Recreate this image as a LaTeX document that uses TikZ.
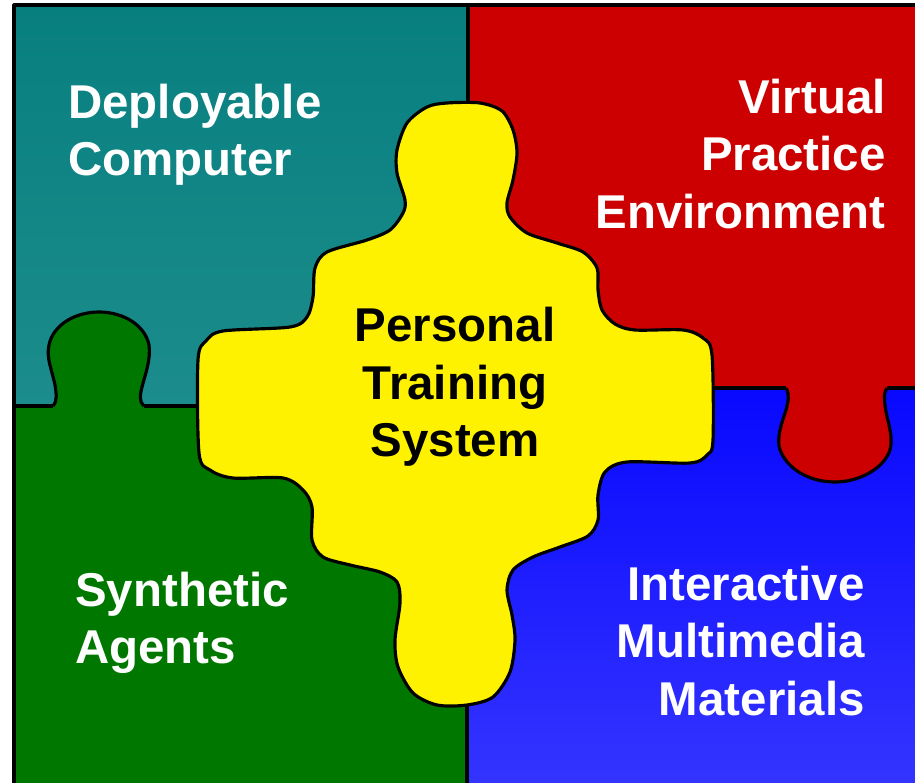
\documentclass[tikz,border=0pt]{standalone}
\usepackage{fontspec}
\setmainfont{Liberation Sans}
\usetikzlibrary{positioning}

\definecolor{tealpiece}{RGB}{8,127,127}
\definecolor{tealpiecelow}{RGB}{28,140,140}
\definecolor{redpiece}{RGB}{204,0,0}
\definecolor{greenpiece}{RGB}{0,120,0}
\definecolor{bluepiece}{RGB}{8,8,255}
\definecolor{bluepiecelow}{RGB}{52,52,255}

\begin{document}
\begin{tikzpicture}[
    x=0.02cm,
    y=-0.02cm,
    edge line/.style={draw=black,line width=1.8pt,line join=round},
    piece label/.style={text=white,font=\fontsize{27}{32.6}\selectfont\bfseries,inner sep=0pt},
    center label/.style={text=black,font=\fontsize{27}{32.6}\selectfont\bfseries,inner sep=0pt,align=center}
]
\useasboundingbox (0,0) rectangle (915,783);
\clip (0,0) rectangle (915,783);

% Quadrants
\fill[top color=tealpiece,bottom color=tealpiecelow] (14,5) rectangle (468,406);
\fill[redpiece] (468,5) rectangle (915,388);
\fill[greenpiece] (14,406) rectangle (467,783);
\fill[top color=bluepiece,bottom color=bluepiecelow] (467,388) rectangle (915,783);

% Border and dividers
\draw[edge line] (14,783) -- (14,5) -- (915,5);
\draw[edge line] (468,5) -- (468,110);
\draw[edge line] (467,700) -- (467,783);
\draw[edge line] (14,406) -- (205,406);
\draw[edge line] (705,388) -- (915,388);

% Green tab
\fill[greenpiece] (53,410) -- (53,406) .. controls (58,400) and (56,392) .. (55,385)
    .. controls (52,370) and (46,358) .. (49,345)
    .. controls (53,325) and (75,312) .. (99,312)
    .. controls (123,312) and (145,325) .. (149,345)
    .. controls (151,360) and (145,375) .. (142,387)
    .. controls (140,395) and (139,402) .. (144,406) -- (144,410) -- cycle;
\draw[edge line] (53,406) .. controls (58,400) and (56,392) .. (55,385)
    .. controls (52,370) and (46,358) .. (49,345)
    .. controls (53,325) and (75,312) .. (99,312)
    .. controls (123,312) and (145,325) .. (149,345)
    .. controls (151,360) and (145,375) .. (142,387)
    .. controls (140,395) and (139,402) .. (144,406);

% Red tab
\fill[redpiece] (786,384) -- (786,388) .. controls (790,395) and (788,402) .. (786,410)
    .. controls (782,422) and (776,438) .. (780,450)
    .. controls (788,470) and (810,482) .. (835,482)
    .. controls (860,482) and (884,468) .. (890,450)
    .. controls (894,435) and (886,418) .. (885,405)
    .. controls (884,398) and (884,392) .. (887,388) -- (887,384) -- cycle;
\draw[edge line] (786,388) .. controls (790,395) and (788,402) .. (786,410)
    .. controls (782,422) and (776,438) .. (780,450)
    .. controls (788,470) and (810,482) .. (835,482)
    .. controls (860,482) and (884,468) .. (890,450)
    .. controls (894,435) and (886,418) .. (885,405)
    .. controls (884,398) and (884,392) .. (887,388);

% Centre piece
\draw[edge line,fill=yellow] plot[smooth cycle,tension=0.5] coordinates {
    (447,103) (480,103) (502,111) (513,130) (517,153) (513,180) (507,203)
    (510,217) (527,233) (557,243) (583,252) (597,268) (598,290) (602,310)
    (615,324) (635,330) (683,330) (703,338) (712,355) (713,440) (707,455)
    (690,463) (627,462) (605,472) (598,495) (598,520) (588,536) (560,547)
    (533,557) (513,570) (507,590) (512,615) (515,640) (510,672) (493,697)
    (467,705) (437,705) (413,693) (398,667) (395,640) (400,603) (397,582)
    (380,572) (350,565) (323,557) (312,540) (312,507) (303,490) (283,478)
    (233,478) (210,470) (199,453) (198,360) (206,341) (223,331) (290,327)
    (307,317) (313,297) (315,268) (327,252) (367,240) (390,230) (403,213)
    (405,200) (397,173) (397,150) (407,123) (427,107)};

% Labels
\node[piece label,anchor=west,align=left] (deployable) at (68,135) {Deployable\\Computer};
\node[piece label,anchor=east,align=right] (virtual) at (886,154) {Virtual\\Practice\\Environment};
\node[center label] (personal) at (455,387) {Personal\\Training\\System};
\node[piece label,anchor=west,align=left] (synthetic) at (75,623) {Synthetic\\Agents};
\node[piece label,anchor=east,align=right] (interactive) at (865,641) {Interactive\\Multimedia\\Materials};

\end{tikzpicture}
\end{document}
